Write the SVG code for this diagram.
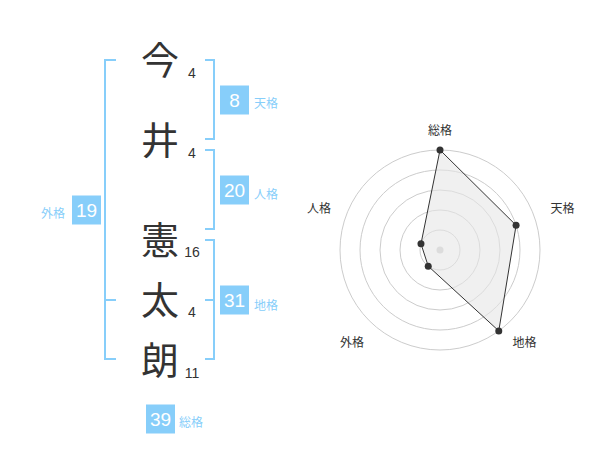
<svg xmlns="http://www.w3.org/2000/svg" width="600" height="470" viewBox="0 0 600 470">
<style>
text{font-family:"Liberation Sans","Noto Sans CJK JP",sans-serif}
.kanji{font-family:"Noto Sans CJK JP",sans-serif;font-size:38px;fill:#333;text-anchor:middle}
.stroke{font-size:14px;fill:#333;text-anchor:middle}
.box{fill:#87cefa}
.boxnum{font-size:19px;fill:#fff;text-anchor:middle}
.lbl{font-family:"Noto Sans CJK JP",sans-serif;font-size:12px;fill:#87cefa}
.br{fill:none;stroke:#87cefa;stroke-width:2}
.ring{fill:none;stroke:#cccccc;stroke-width:1}
.rlbl{font-family:"Noto Sans CJK JP",sans-serif;font-size:12px;fill:#333;text-anchor:middle}
.dot{fill:#333}
</style>
<rect width="600" height="470" fill="#fff"/>
<g id="brackets">
<path class="br" d="M116,60 H105 V359 H116 M105,300 H116"/>
<path class="br" d="M205,60 H214 V139 H205"/>
<path class="br" d="M205,150 H214 V229 H205"/>
<path class="br" d="M205,240 H214 V359 H205 M205,300 H214"/>
</g>
<g id="char1"><text class="kanji" x="160" y="74.4">今</text><text class="stroke" x="192" y="77.7">4</text></g>
<g id="char2"><text class="kanji" x="160" y="154.4">井</text><text class="stroke" x="192" y="157.7">4</text></g>
<g id="char3"><text class="kanji" x="160" y="254.4">憲</text><text class="stroke" x="192" y="257.3">16</text></g>
<g id="char4"><text class="kanji" x="160" y="314.4">太</text><text class="stroke" x="192" y="317.3">4</text></g>
<g id="char5"><text class="kanji" x="160" y="374.4">朗</text><text class="stroke" x="192" y="378">11</text></g>
<g id="tenkaku"><rect class="box" x="220" y="85.5" width="29" height="29"/><text class="boxnum" x="234.5" y="107">8</text><text class="lbl" x="254" y="108.3">天格</text></g>
<g id="jinkaku"><rect class="box" x="220" y="175.5" width="29" height="29"/><text class="boxnum" x="234.5" y="197">20</text><text class="lbl" x="254" y="198.6">人格</text></g>
<g id="chikaku"><rect class="box" x="220" y="285.5" width="29" height="29"/><text class="boxnum" x="234.5" y="307">31</text><text class="lbl" x="254" y="309.6">地格</text></g>
<g id="gaikaku"><rect class="box" x="72" y="195.5" width="29" height="29"/><text class="boxnum" x="86.5" y="217">19</text><text class="lbl" x="41" y="217.6">外格</text></g>
<g id="soukaku"><rect class="box" x="146" y="404.5" width="29" height="29"/><text class="boxnum" x="160.5" y="426">39</text><text class="lbl" x="179" y="426.6">総格</text></g>
<g id="radar">
<circle class="ring" cx="440" cy="250" r="20"/>
<circle class="ring" cx="440" cy="250" r="40"/>
<circle class="ring" cx="440" cy="250" r="60"/>
<circle class="ring" cx="440" cy="250" r="80"/>
<circle class="ring" cx="440" cy="250" r="100"/>
<circle cx="440" cy="250" r="3.5" fill="#cccccc"/>
<polygon points="440,150 516.08,225.28 498.78,330.9 428.24,266.18 420.98,243.82" fill="#e6e6e6" fill-opacity="0.6" stroke="#333" stroke-width="1"/>
<circle class="dot" cx="440" cy="150" r="3.5"/>
<circle class="dot" cx="516.08" cy="225.28" r="3.5"/>
<circle class="dot" cx="498.78" cy="330.9" r="3.5"/>
<circle class="dot" cx="428.24" cy="266.18" r="3.5"/>
<circle class="dot" cx="420.98" cy="243.82" r="3.5"/>
<text class="rlbl" x="440" y="134.6">総格</text>
<text class="rlbl" x="562.5" y="213">天格</text>
<text class="rlbl" x="524.5" y="347">地格</text>
<text class="rlbl" x="352" y="347">外格</text>
<text class="rlbl" x="319" y="213">人格</text>
</g>
</svg>
